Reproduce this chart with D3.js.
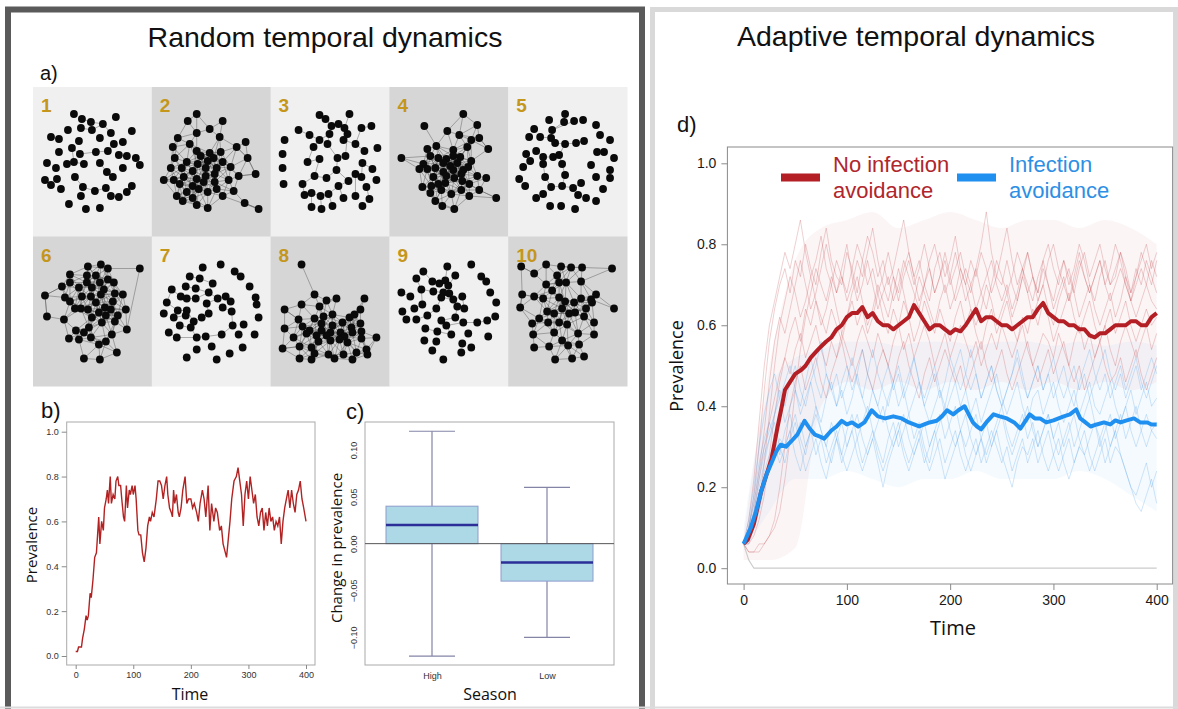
<!DOCTYPE html>
<html>
<head>
<meta charset="utf-8">
<script src="https://cdn.jsdelivr.net/npm/d3@7"></script>
<style>
body{margin:0;background:#fff}
svg{display:block}
</style>
</head>
<body>
<div id="fig"></div>
<script>
// ---------- a) network snapshots (node layout in a 119 x 149 panel space) ----------
var netLabels = ["1","2","3","4","5","6","7","8","9","10"];
var netShade = [0,1,0,1,0,1,0,1,0,1];
var net1 = [[41,27],[49,32],[58,35],[70,37],[83,30],[99,44],[35,43],[48,41],[59,43],[78,46],[18,50],[26,52],[46,54],[67,51],[81,57],[90,55],[39,61],[26,65],[47,67],[63,65],[75,64],[86,68],[94,69],[103,71],[107,78],[14,76],[23,81],[34,77],[41,75],[51,77],[67,76],[90,81],[74,85],[80,90],[42,90],[24,92],[12,93],[18,98],[28,102],[50,100],[62,104],[73,101],[99,99],[94,105],[86,110],[78,109],[48,109],[36,117],[53,122],[67,121]];
var net2 = [[45,27],[36,34],[71,34],[58,42],[45,46],[68,50],[26,51],[38,57],[85,60],[94,55],[21,60],[45,64],[49,69],[58,66],[69,65],[23,71],[35,75],[46,77],[56,74],[62,71],[71,75],[96,71],[19,81],[30,81],[41,84],[54,81],[65,81],[79,80],[104,87],[12,93],[22,93],[32,90],[45,92],[54,89],[63,87],[87,89],[28,97],[41,99],[52,95],[63,95],[77,93],[35,105],[47,102],[56,105],[65,102],[82,104],[25,109],[31,114],[41,111],[45,118],[56,121],[71,109],[93,116],[107,122]];
var net3 = [[49,28],[55,32],[79,27],[28,43],[61,39],[68,37],[74,41],[91,41],[101,39],[14,53],[39,48],[49,53],[59,47],[73,53],[77,47],[85,57],[43,60],[57,57],[94,64],[107,61],[12,67],[49,72],[67,71],[75,69],[37,75],[92,76],[12,81],[66,83],[102,82],[44,89],[56,91],[85,87],[91,90],[106,93],[13,97],[32,97],[78,94],[68,99],[96,100],[34,108],[41,106],[50,109],[58,107],[73,111],[85,109],[99,112],[41,120],[51,122],[62,119],[92,119]];
var net4 = [[74,27],[35,39],[58,44],[88,38],[70,48],[90,51],[82,53],[47,59],[38,62],[64,63],[78,60],[99,62],[12,71],[41,69],[49,71],[57,72],[64,69],[71,70],[82,74],[34,77],[54,76],[61,79],[68,76],[30,82],[38,82],[46,81],[54,85],[64,83],[74,83],[79,80],[44,90],[57,89],[65,91],[72,87],[88,89],[97,91],[33,100],[42,99],[49,97],[56,96],[73,94],[80,97],[41,106],[52,103],[62,107],[72,103],[90,103],[80,109],[46,114],[53,119],[65,122],[107,111]];
var net5 = [[57,27],[41,33],[56,35],[66,34],[75,33],[26,42],[44,43],[88,38],[21,50],[32,50],[43,51],[92,48],[47,56],[57,57],[68,56],[76,54],[102,53],[28,64],[18,67],[89,65],[96,65],[35,70],[45,70],[51,68],[106,71],[22,74],[35,77],[54,77],[83,78],[15,80],[102,83],[37,90],[57,88],[88,90],[102,91],[11,92],[17,99],[43,100],[54,99],[65,101],[73,96],[95,102],[35,107],[70,108],[28,111],[78,111],[88,114],[42,119],[53,119],[67,122]];
var net6 = [[55,30],[68,28],[75,32],[107,32],[37,38],[54,39],[63,39],[37,46],[54,46],[67,46],[75,43],[81,46],[29,50],[46,51],[59,51],[71,53],[12,59],[32,61],[49,60],[58,60],[68,58],[82,57],[90,58],[37,65],[63,66],[80,65],[42,72],[48,72],[55,73],[72,71],[78,73],[93,73],[14,80],[31,83],[59,81],[66,76],[73,79],[85,79],[56,91],[69,86],[82,85],[43,94],[94,93],[51,96],[36,102],[46,103],[58,101],[79,98],[73,105],[66,108],[84,116],[51,122],[67,123]];
var net7 = [[51,31],[69,28],[83,35],[89,40],[38,40],[48,42],[61,47],[98,50],[20,53],[34,50],[44,52],[57,56],[29,60],[35,62],[44,62],[66,62],[74,60],[79,65],[104,61],[15,66],[55,67],[71,71],[105,68],[12,77],[26,74],[35,74],[80,75],[34,79],[22,81],[50,81],[57,77],[107,81],[42,85],[28,89],[39,91],[81,89],[92,88],[17,96],[25,101],[45,101],[54,100],[70,98],[87,98],[103,98],[60,110],[45,113],[91,111],[35,121],[78,117],[65,123]];
var net8 = [[31,28],[44,58],[56,64],[66,62],[94,62],[31,68],[49,70],[14,73],[90,73],[62,78],[53,80],[79,81],[84,78],[28,83],[44,82],[72,86],[90,87],[14,92],[32,90],[51,87],[62,89],[81,91],[39,94],[51,94],[60,96],[70,96],[91,95],[36,97],[23,101],[46,99],[56,99],[74,100],[82,96],[106,101],[48,105],[60,104],[69,103],[77,106],[91,102],[12,112],[29,110],[41,111],[86,116],[96,113],[44,117],[58,118],[73,118],[97,118],[29,122],[41,123],[64,122],[82,123]];
var net9 = [[58,30],[82,28],[34,35],[66,39],[27,42],[43,45],[50,47],[56,44],[59,49],[92,40],[97,45],[12,56],[32,53],[44,55],[54,56],[60,57],[73,60],[101,56],[21,60],[52,61],[64,63],[33,68],[47,72],[68,70],[75,72],[107,66],[13,75],[25,72],[38,79],[17,83],[27,83],[52,84],[66,81],[57,89],[74,86],[88,86],[98,84],[106,80],[36,92],[48,95],[62,98],[79,97],[99,100],[35,104],[47,105],[73,107],[82,111],[43,114],[72,116],[54,123]];
var net10 = [[13,30],[26,37],[38,28],[53,30],[63,31],[74,31],[104,32],[49,39],[38,48],[51,46],[58,46],[73,45],[14,58],[26,60],[35,62],[44,54],[51,61],[57,65],[66,66],[73,62],[83,63],[88,58],[12,71],[31,82],[39,75],[46,77],[54,72],[61,77],[67,76],[76,80],[78,72],[84,66],[106,72],[24,87],[40,86],[51,86],[59,88],[86,86],[25,98],[46,96],[70,97],[86,98],[26,111],[41,110],[54,104],[60,109],[71,108],[47,123],[64,122],[76,120]];
var netNodes = [net1,net2,net3,net4,net5,net6,net7,net8,net9,net10];

// hand-read links of the sparse snapshots, extra long links of the dense ones
var netLinks = [
  [[1,2],[2,3],[7,8],[8,3],[3,9],[10,11],[16,18],[18,19],[19,20],[20,14],[27,28],[28,29],[16,28],[33,32],[32,30],[39,40],[40,41],[44,45],[42,43],[21,22],[34,39]],
  [[52,53],[51,53],[21,28],[35,28],[8,21]],
  [[0,1],[1,4],[4,5],[5,6],[6,2],[4,12],[12,11],[11,10],[10,3],[6,14],[14,13],[13,15],[15,18],[11,16],[16,24],[12,17],[17,22],[22,23],[23,14],[22,27],[21,24],[21,29],[29,30],[30,27],[27,36],[36,31],[31,32],[25,32],[25,28],[29,35],[35,39],[39,40],[40,41],[41,42],[42,37],[37,36],[43,37],[44,31],[45,38],[46,40],[47,41],[48,42],[8,7],[7,15]],
  [[12,13],[12,19],[12,23],[51,46],[51,47],[0,2],[0,4],[1,7],[11,5]],
  [[0,2],[2,6],[6,10],[9,10],[10,12],[12,13],[13,14],[14,15],[17,21],[21,22],[22,23],[23,13],[21,26],[26,31],[31,37],[37,38],[38,32],[32,27],[27,23],[38,39],[39,40],[6,3]],
  [[3,2],[3,42],[16,32],[16,12]],
  [[4,5],[5,6],[6,11],[9,10],[10,11],[8,12],[12,13],[13,14],[14,11],[15,16],[16,17],[11,15],[19,24],[24,25],[25,27],[27,28],[25,32],[32,29],[29,30],[30,20],[20,15],[21,26],[26,35],[35,41],[41,40],[40,39],[39,34],[34,32],[33,34],[37,38],[38,39],[8,19]],
  [[0,1],[7,13],[39,40]],
  [[0,7],[7,6],[6,5],[5,2],[7,8],[8,15],[15,14],[14,13],[13,12],[14,19],[19,22],[22,28],[19,20],[20,16],[16,24],[24,23],[23,32],[31,32],[31,33],[33,34],[34,35],[35,36],[27,21],[21,12],[30,28],[38,39],[39,40],[40,33],[12,4],[11,18],[3,8]],
  [[6,11],[6,5],[32,20],[32,21],[0,12],[12,22],[0,1]]
];
// dense snapshots also join every pair of nodes closer than this (panel units)
var netNear = [0,22,0,21,0,22,0,21,0,22];

// ---------- b) one run, random dynamics ----------
var bTime = [0,3,5,10,12,15,18,20,22,25, 27,30,33,36,40,42,45,48,50,53, 55,57,60,62,65,68,70,73,75,78,
  80,83,85,88,90,93,95,98,100,103, 105,108,110,113,116,119,122,125,128,130, 133,136,140,143,146,149,152,155,158,160,
  163,166,168,170,172,175,178,180,183,186, 190,193,196,200,203,206,210,213,216,220, 223,226,230,233,236,240,243,246,250,253,
  256,260,262,265,268,271,275,279,282,285, 288,291,294,297,300,303,306,309,312,315, 318,321,324,327,330,333,336,339,342,345,
  348,351,354,357,360,363,366,369,372,375, 378,381,384,387,390,393,396,400];
var bPrev = [.02,.02,.04,.04,.08,.12,.18,.16,.18,.28, .26,.34,.44,.46,.62,.50,.60,.56,.66,.70, .74,.68,.80,.68,.72,.70,.78,.80,.76,.76,
  .70,.62,.60,.76,.66,.74,.72,.76,.72,.76, .70,.56,.54,.54,.46,.42,.48,.58,.62,.60, .64,.62,.70,.78,.78,.76,.70,.76,.80,.72,
  .66,.64,.62,.74,.68,.72,.64,.62,.66,.74, .80,.68,.70,.70,.66,.68,.64,.60,.68,.74, .70,.62,.76,.56,.68,.60,.66,.64,.56,.58,
  .50,.46,.44,.52,.60,.70,.78,.80,.84,.78, .72,.58,.72,.78,.70,.80,.74,.68,.72,.62, .58,.64,.66,.56,.64,.58,.66,.60,.62,.56,
  .60,.58,.62,.50,.60,.66,.70,.74,.66,.74, .68,.64,.72,.74,.78,.70,.66,.60];
var bYTicks = [0,0.2,0.4,0.6,0.8,1.0];
var timeTicks = [0,100,200,300,400];

// ---------- c) change in prevalence by season ----------
var seasons = ["High","Low"];
var boxLo = [-0.12,-0.10];
var boxQ1 = [0.00,-0.04];
var boxMed = [0.02,-0.02];
var boxQ3 = [0.04,0.00];
var boxHi = [0.12,0.06];
var cYTicks = [-0.10,-0.05,0.00,0.05,0.10];

// ---------- d) adaptive dynamics: mean runs [time, prevalence] ----------
var redMean = [[0,.06],[4,.07],[10,.11],[17,.19],[22,.23],[27,.27],[33,.35],[37,.40],[40,.44],[45,.46],[50,.48],[56,.49],[60,.50],[65,.52],[72,.54],[76,.55],
  [80,.56],[85,.57],[90,.59],[95,.60],[100,.62],[105,.63],[110,.63],[115,.645],[120,.62],[125,.63],[130,.61],[135,.60],[140,.60],[145,.59],[150,.60],[155,.61],
  [160,.62],[165,.65],[170,.63],[175,.61],[180,.59],[185,.60],[190,.60],[195,.59],[200,.58],[205,.59],[210,.585],[215,.60],[220,.62],[225,.64],[230,.61],[235,.62],
  [240,.62],[245,.61],[250,.60],[255,.60],[260,.59],[265,.60],[270,.61],[275,.62],[280,.62],[285,.64],[290,.655],[295,.63],[300,.62],[305,.61],[310,.61],[315,.60],
  [320,.60],[325,.59],[330,.59],[335,.575],[340,.57],[345,.58],[350,.58],[355,.59],[360,.60],[365,.60],[370,.60],[375,.61],[380,.61],[385,.60],[390,.60],[395,.62],[400,.63]];
var blueMean = [[0,.06],[7,.10],[12,.14],[17,.19],[22,.23],[27,.26],[32,.29],[36,.305],[41,.30],[46,.313],[52,.33],[59,.364],[64,.345],[69,.33],[74,.325],[78,.32],
  [85,.34],[90,.35],[95,.364],[100,.355],[105,.36],[111,.35],[117,.36],[124,.39],[130,.375],[137,.37],[145,.375],[153,.37],[160,.36],[165,.355],[170,.35],[175,.355],
  [180,.36],[187,.364],[192,.375],[197,.39],[203,.38],[208,.39],[214,.40],[218,.38],[222,.36],[226,.35],[230,.343],[235,.36],[242,.38],[248,.375],[255,.37],[262,.36],
  [268,.345],[272,.36],[277,.38],[282,.37],[287,.37],[293,.36],[300,.365],[305,.37],[310,.375],[316,.38],[322,.392],[326,.37],[331,.36],[336,.35],[342,.355],[349,.36],
  [355,.355],[360,.365],[365,.36],[371,.365],[378,.37],[384,.36],[391,.36],[395,.355],[400,.355]];
// single replicate runs, prevalence x100 every 5 time steps from 0 to 400
var redRuns = [
  "6 10 18 30 44 56 64 70 74 68 76 72 80 74 70 78 84 76 72 70 78 74 68 76 82 78 72 76 70 74 80 86 78 72 76 70 66 74 78 72 76 82 74 70 76 72 78 74 68 72 78 84 76 70 74 78 72 68 76 80 74 70 76 72 68 74 78 72 76 80 74 70 72 78 74 68 72 76 80 74 78",
  "6 6 8 12 18 28 38 46 52 58 62 56 64 60 66 62 58 64 60 56 62 66 60 64 58 62 68 62 58 64 60 66 62 56 60 66 62 58 64 60 56 62 66 60 64 58 54 60 64 58 62 66 60 56 62 58 64 60 66 62 56 60 64 68 62 58 62 66 60 56 60 64 58 62 66 60 56 60 64 60 62",
  "6 4 4 6 6 8 10 14 22 32 44 54 62 68 74 70 66 72 68 74 80 72 66 70 76 70 64 68 72 66 70 76 72 68 64 70 74 68 72 78 72 66 70 74 70 64 68 72 76 70 66 70 64 68 74 70 66 72 76 70 64 68 72 66 70 76 72 68 72 76 70 66 70 74 70 66 70 74 70 76 72",
  "6 12 22 36 50 60 66 72 78 74 80 86 78 72 76 82 74 70 76 72 68 74 80 76 70 74 68 72 78 72 66 72 76 70 74 80 74 68 72 76 70 74 78 72 68 74 80 88 78 72 70 76 70 66 72 78 72 68 74 70 66 72 76 70 74 80 76 70 66 72 76 70 74 78 72 68 74 70 76 72 68",
  "6 8 14 22 30 36 42 48 52 48 54 58 52 56 60 54 50 56 52 58 54 50 56 60 56 52 58 54 50 56 60 54 58 52 56 60 56 50 54 58 52 56 60 56 52 56 50 54 58 54 60 56 52 56 60 54 50 54 58 56 52 58 54 50 56 60 54 58 52 56 60 54 50 56 60 56 52 56 60 54 58",
  "6 8 10 16 26 38 50 60 66 72 68 62 66 72 66 60 64 70 64 58 62 68 72 66 60 64 70 66 62 68 74 68 62 66 72 68 64 60 66 70 64 68 74 70 64 60 64 70 66 60 64 68 62 66 72 68 62 66 70 64 60 66 70 74 68 62 66 70 64 60 64 68 62 66 72 66 62 66 70 66 64",
  "6 10 16 24 34 46 56 62 58 64 70 76 70 64 68 74 80 74 68 72 66 70 76 72 78 84 76 70 66 72 68 74 78 72 66 70 76 80 74 68 72 78 72 66 70 74 68 64 70 76 72 68 72 78 74 68 72 66 70 76 80 74 70 66 72 78 72 68 72 76 70 74 80 76 70 66 72 78 74 70 76",
  "6 4 4 4 6 8 12 20 30 40 46 50 44 48 52 46 42 48 52 56 50 46 50 54 48 44 50 54 50 46 52 56 50 46 42 48 52 46 50 54 50 46 50 44 48 52 56 50 46 50 54 48 44 48 52 56 50 46 50 54 48 52 56 50 46 50 44 48 52 56 50 46 48 52 46 50 54 48 44 48 52"
];
var blueRuns = [
  "6 10 16 24 30 34 38 42 36 40 44 38 42 46 40 36 42 46 40 44 38 42 48 42 38 44 40 36 42 46 40 44 38 42 46 40 36 40 44 38 42 46 40 44 38 42 36 40 44 48 42 38 42 46 40 36 42 44 38 42 46 40 36 40 44 38 42 46 40 38 42 46 40 36 40 44 38 42 46 40 42",
  "6 8 12 18 24 28 30 26 30 34 28 24 30 34 28 32 26 30 34 28 24 28 32 26 30 34 28 24 28 32 36 30 26 30 34 28 24 28 32 26 30 34 28 24 28 32 26 30 34 30 26 30 24 28 32 26 30 34 28 24 28 32 26 22 26 30 34 28 24 28 32 26 30 28 24 20 18 22 26 20 24",
  "6 12 20 30 38 44 48 42 46 50 44 40 46 52 46 42 48 44 40 46 50 44 48 54 48 44 40 46 50 44 48 42 46 52 46 42 46 50 44 40 46 50 54 48 44 48 42 46 50 44 40 44 48 52 46 42 46 50 44 48 42 46 50 44 40 46 50 54 48 44 48 42 46 50 44 48 52 46 42 46 50",
  "6 6 10 14 20 24 28 32 30 34 38 32 28 34 38 34 30 26 32 36 30 34 38 32 28 32 36 40 34 30 34 38 32 28 32 36 30 34 38 32 36 40 34 30 34 38 32 28 32 36 40 34 30 34 38 32 36 30 34 38 32 28 32 36 30 34 38 42 36 32 36 30 34 38 32 36 40 34 30 34 32",
  "6 10 14 22 28 32 36 30 26 32 36 30 24 28 32 26 22 28 32 26 30 34 28 24 28 32 26 20 26 30 34 28 24 28 32 26 30 34 28 22 26 30 34 28 24 28 32 26 30 34 28 24 20 26 30 28 32 26 30 34 28 24 28 32 26 30 28 24 28 32 26 30 34 28 24 20 16 14 18 22 16",
  "6 8 14 20 26 32 38 44 40 46 50 44 40 46 50 56 48 44 48 42 46 52 46 42 48 54 48 44 40 46 50 44 48 52 46 40 44 48 42 46 52 48 44 48 54 48 42 46 50 44 40 44 48 54 48 42 46 50 44 48 52 46 42 46 50 44 48 42 46 50 54 48 44 48 42 46 50 44 48 52 48",
  "6 10 18 26 32 36 32 28 34 38 32 36 30 34 40 34 30 36 32 28 34 38 32 36 40 34 30 26 32 36 30 34 38 32 36 30 26 32 36 40 34 30 34 38 32 28 32 36 30 34 38 32 28 32 36 40 34 30 34 38 32 36 30 34 38 32 28 32 36 30 34 38 32 36 40 34 30 34 38 34 36"
];
var deadRun = [[0,.06],[5,.02],[10,0],[400,0]];
// spread of all replicates [time, low, high]
var redBand = [[0,.02,.08],[25,.02,.50],[50,.05,.76],[75,.40,.84],[100,.46,.86],[125,.44,.88],[150,.46,.84],[175,.44,.86],[200,.46,.88],[225,.44,.86],[250,.46,.84],[275,.44,.86],[300,.46,.86],[325,.44,.84],[350,.46,.86],[375,.44,.84],[400,.46,.80]];
var blueBand = [[0,.04,.10],[25,.14,.44],[50,.22,.52],[75,.22,.54],[100,.24,.56],[125,.22,.56],[150,.20,.55],[175,.22,.56],[200,.22,.56],[225,.24,.55],[250,.22,.56],[275,.22,.56],[300,.22,.55],[325,.24,.56],[350,.22,.55],[375,.18,.56],[400,.14,.55]];
var dYTicks = [0,0.2,0.4,0.6,0.8,1.0];
var legendLabels = [["No infection","avoidance"],["Infection","avoidance"]];

// ---------------------------------------------------------------
var W = 1178, H = 709;
var RED = "#b31f24", BLUE = "#1f8ff0";
var ARIAL = "'Liberation Sans', Arial, sans-serif",
	SANS = "'Open Sans', 'Noto Sans', sans-serif";

var svg = d3.select("#fig").append("svg").attr("width",W).attr("height",H);

// frames
svg.append("rect").attr("x",8).attr("y",9.5).attr("width",634).attr("height",720)
	.attr("fill","none").attr("stroke","#5a5a5a").attr("stroke-width",6);
svg.append("rect").attr("x",652.5).attr("y",9.5).attr("width",523).attr("height",720)
	.attr("fill","none").attr("stroke","#d9d9d9").attr("stroke-width",5);
svg.append("line").attr("x1",0).attr("x2",W).attr("y1",707.5).attr("y2",707.5)
	.attr("stroke","#dcdcdc").attr("stroke-width",2);

function label(x,y,txt,size,font,anchor){
	return svg.append("text").attr("x",x).attr("y",y).attr("text-anchor",anchor||"start")
		.style("font-family",font).style("font-size",size+"px").attr("fill","#111").text(txt);
}
label(325,47,"Random temporal dynamics",28.5,ARIAL,"middle");
label(916,46,"Adaptive temporal dynamics",28.5,ARIAL,"middle");
label(40,80,"a)",20,ARIAL);
label(41,418,"b)",22,ARIAL);
label(346,419,"c)",22,ARIAL);
label(677,132,"d)",22,ARIAL);

// ---------- a) ----------
var gx = d3.scaleBand().domain(d3.range(5)).range([33,627]);
var gy = d3.scaleBand().domain(d3.range(2)).range([87,386]);
var nx = d3.scaleLinear().domain([0,119]).range([0,gx.bandwidth()]);
var ny = d3.scaleLinear().domain([0,149.5]).range([0,gy.bandwidth()]);

function nearLinks(nodes,r){
	var out = [];
	for (var i=0;i<nodes.length;i++) for (var j=i+1;j<nodes.length;j++){
		var dx = nodes[i][0]-nodes[j][0], dy = nodes[i][1]-nodes[j][1];
		if (dx*dx+dy*dy <= r*r) out.push([i,j]);
	}
	return out;
}

netNodes.forEach(function(nodes,k){
	var g = svg.append("g")
		.attr("transform","translate("+gx(k%5)+","+gy(Math.floor(k/5))+")");
	g.append("rect").attr("width",gx.bandwidth()+0.5).attr("height",gy.bandwidth()+0.5)
		.attr("fill",netShade[k] ? "#d6d6d6" : "#f0f0f0");
	var links = netLinks[k].concat(netNear[k] ? nearLinks(nodes,netNear[k]) : []);
	g.selectAll("line").data(links).enter().append("line")
		.attr("x1",function(d){return nx(nodes[d[0]][0])}).attr("y1",function(d){return ny(nodes[d[0]][1])})
		.attr("x2",function(d){return nx(nodes[d[1]][0])}).attr("y2",function(d){return ny(nodes[d[1]][1])})
		.attr("stroke","#555").attr("stroke-width",0.6).attr("stroke-opacity",0.75);
	g.selectAll("circle").data(nodes).enter().append("circle")
		.attr("cx",function(d){return nx(d[0])}).attr("cy",function(d){return ny(d[1])})
		.attr("r",3.9).attr("fill","#0a0a0a");
	g.append("text").attr("x",8).attr("y",25).text(netLabels[k])
		.style("font-family",ARIAL).style("font-size","19px").style("font-weight","bold")
		.attr("fill","#c4961c");
});

function styleAxis(g,size,col){
	g.select(".domain").remove();
	g.selectAll(".tick line").attr("stroke","#8a8a8a");
	g.selectAll(".tick text").style("font-family",ARIAL).style("font-size",size+"px").attr("fill",col);
}

// ---------- b) ----------
var bx = d3.scaleLinear().domain([0,400]).range([75.7,306]);
var by = d3.scaleLinear().domain([0,1]).range([656,431.7]);
svg.append("rect").attr("x",66.7).attr("y",422).attr("width",248.3).attr("height",243)
	.attr("fill","none").attr("stroke","#aaa");
svg.append("g").attr("transform","translate(66.7,0)")
	.call(d3.axisLeft(by).tickValues(bYTicks).tickFormat(d3.format(".1f")).tickSize(5).tickPadding(3))
	.call(styleAxis,9,"#333");
svg.append("g").attr("transform","translate(0,665)")
	.call(d3.axisBottom(bx).tickValues(timeTicks).tickSize(4).tickPadding(3))
	.call(styleAxis,9,"#333");
svg.append("path").datum(d3.zip(bTime,bPrev))
	.attr("d",d3.line().x(function(d){return bx(d[0])}).y(function(d){return by(d[1])}))
	.attr("fill","none").attr("stroke","#b22222").attr("stroke-width",1.4);
label(190,700,"Time",16,SANS,"middle");
label(0,0,"Prevalence",15,SANS,"middle").attr("transform","translate(37,545) rotate(-90)");

// ---------- c) ----------
var cx = d3.scaleLinear().domain([1,2]).range([432,547]);
var cy = d3.scaleLinear().domain([-0.1,0.1]).range([637.3,450]);
svg.append("rect").attr("x",365).attr("y",422).attr("width",249).attr("height",243)
	.attr("fill","none").attr("stroke","#aaa");
var cAxis = svg.append("g").attr("transform","translate(365,0)")
	.call(d3.axisLeft(cy).tickValues(cYTicks).tickFormat(d3.format(".2f")).tickSize(0))
	.call(styleAxis,9,"#333");
cAxis.selectAll(".tick text").attr("transform","rotate(-90)").attr("x",0).attr("y",-8)
	.attr("dy",0).attr("text-anchor","middle");
svg.append("g").attr("transform","translate(0,665)")
	.call(d3.axisBottom(cx).tickValues([1,2]).tickFormat(function(d){return seasons[d-1]}).tickSize(0).tickPadding(8))
	.call(styleAxis,9,"#333");
var boxes = svg.selectAll(".box").data(seasons).enter().append("g").attr("class","box");
boxes.append("line")
	.attr("x1",function(d,i){return cx(i+1)}).attr("x2",function(d,i){return cx(i+1)})
	.attr("y1",function(d,i){return cy(boxLo[i])}).attr("y2",function(d,i){return cy(boxHi[i])})
	.attr("stroke","#8384a6").attr("stroke-width",1.2);
[boxLo,boxHi].forEach(function(arr){
	boxes.append("line")
		.attr("x1",function(d,i){return cx(i+0.8)}).attr("x2",function(d,i){return cx(i+1.2)})
		.attr("y1",function(d,i){return cy(arr[i])}).attr("y2",function(d,i){return cy(arr[i])})
		.attr("stroke","#8384a6").attr("stroke-width",1.2);
});
boxes.append("rect")
	.attr("x",function(d,i){return cx(i+0.6)}).attr("width",cx(1.4)-cx(0.6))
	.attr("y",function(d,i){return cy(boxQ3[i])})
	.attr("height",function(d,i){return cy(boxQ1[i])-cy(boxQ3[i])})
	.attr("fill","#add8e6").attr("stroke","#8e9ccc").attr("stroke-width",1);
boxes.append("line")
	.attr("x1",function(d,i){return cx(i+0.6)}).attr("x2",function(d,i){return cx(i+1.4)})
	.attr("y1",function(d,i){return cy(boxMed[i])}).attr("y2",function(d,i){return cy(boxMed[i])})
	.attr("stroke","#2b2f97").attr("stroke-width",2.5);
svg.append("line").attr("x1",365).attr("x2",614).attr("y1",cy(0)).attr("y2",cy(0))
	.attr("stroke","#555").attr("stroke-width",1);
label(490,700,"Season",16,SANS,"middle");
label(0,0,"Change in prevalence",15,SANS,"middle").attr("transform","translate(342,548) rotate(-90)");

// ---------- d) ----------
var dx = d3.scaleLinear().domain([0,400]).range([743.6,1156.7]);
var dy = d3.scaleLinear().domain([0,1]).range([568.2,163.3]);
var dLine = d3.line().x(function(d){return dx(d[0])}).y(function(d){return dy(d[1])});
var dArea = d3.area().curve(d3.curveMonotoneX).x(function(d){return dx(d[0])})
	.y0(function(d){return dy(d[1])}).y1(function(d){return dy(d[2])});
function runPoints(s){
	var v = s.split(" ").map(Number);
	var t = d3.scaleLinear().domain([0,v.length-1]).range([0,400]);
	return v.map(function(p,i){return [t(i),p/100]});
}
svg.append("path").datum(redBand).attr("d",dArea).attr("fill",RED).attr("fill-opacity",0.045);
svg.append("path").datum(blueBand).attr("d",dArea).attr("fill",BLUE).attr("fill-opacity",0.045);
svg.append("path").datum(deadRun).attr("d",dLine).attr("fill","none").attr("stroke","#ccc").attr("stroke-width",1.2);
svg.selectAll(".rrun").data(redRuns).enter().append("path").attr("class","rrun")
	.attr("d",function(d){return dLine(runPoints(d))})
	.attr("fill","none").attr("stroke","#c0464a").attr("stroke-opacity",0.32).attr("stroke-width",0.8);
svg.selectAll(".brun").data(blueRuns).enter().append("path").attr("class","brun")
	.attr("d",function(d){return dLine(runPoints(d))})
	.attr("fill","none").attr("stroke","#4a9be8").attr("stroke-opacity",0.32).attr("stroke-width",0.8);
svg.append("path").datum(redMean).attr("d",dLine).attr("fill","none")
	.attr("stroke",RED).attr("stroke-width",4).attr("stroke-linejoin","round");
svg.append("path").datum(blueMean).attr("d",dLine).attr("fill","none")
	.attr("stroke",BLUE).attr("stroke-width",4).attr("stroke-linejoin","round");
svg.append("rect").attr("x",727.4).attr("y",147).attr("width",445.2).attr("height",437)
	.attr("fill","none").attr("stroke","#8a8a8a").attr("stroke-width",1);
svg.append("g").attr("transform","translate(727.4,0)")
	.call(d3.axisLeft(dy).tickValues(dYTicks).tickFormat(d3.format(".1f")).tickSize(6).tickPadding(5))
	.call(styleAxis,14,"#1a1a1a");
svg.append("g").attr("transform","translate(0,584)")
	.call(d3.axisBottom(dx).tickValues(timeTicks).tickSize(6).tickPadding(5))
	.call(styleAxis,14,"#1a1a1a");
label(953,635,"Time",20,SANS,"middle");
label(0,0,"Prevalence",18,SANS,"middle").attr("transform","translate(683,366) rotate(-90)");

// legend
var legX = [781,957], legCol = [RED,BLUE], legText = ["#b0262c","#2d8fe4"];
legendLabels.forEach(function(lines,i){
	svg.append("rect").attr("x",legX[i]).attr("y",173.5).attr("width",39).attr("height",8).attr("fill",legCol[i]);
	lines.forEach(function(s,j){
		label(legX[i]+52,172+j*26,s,22,ARIAL).attr("fill",legText[i]);
	});
});
</script>
</body>
</html>
